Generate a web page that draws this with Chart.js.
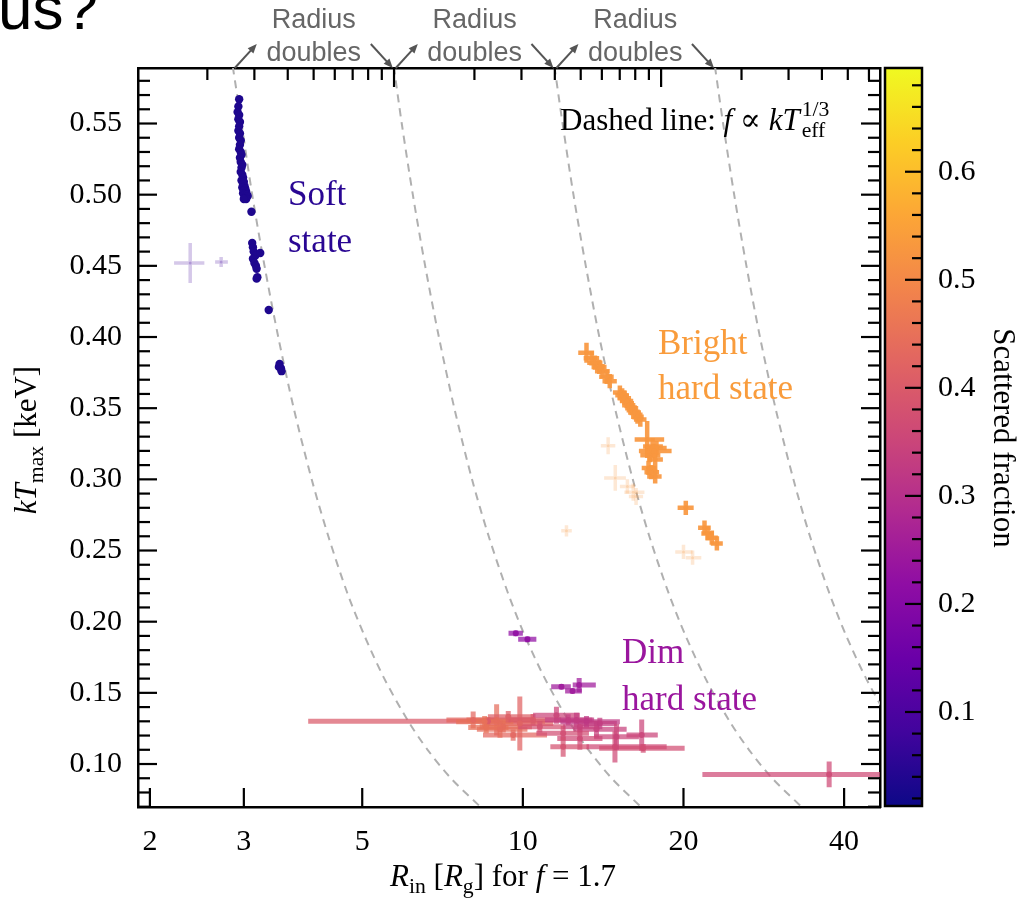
<!DOCTYPE html>
<html>
<head>
<meta charset="utf-8">
<script src="https://cdn.jsdelivr.net/npm/chart.js@4.4.1/dist/chart.umd.min.js"></script>
<style>
  html, body { margin:0; padding:0; background:#fff; }
  #wrap { position:relative; width:1027px; height:899px; overflow:hidden; }
  #main { position:absolute; left:0; top:0; }
  #cbar { position:absolute; left:880px; top:0; }
</style>
</head>
<body>
<div id="wrap">
  <canvas id="main" width="1027" height="899" style="width:1027px;height:899px"></canvas>
  <canvas id="cbar" width="147" height="899" style="width:147px;height:899px"></canvas>
</div>
<script>
// axis ranges and tick labels
const xRange = [1.9, 46.7];
const topRange = [1.1, 660];
const yRange = [0.0698, 0.589];
const cbRange = [0.013, 0.696];
const xTickVals = [2, 3, 5, 10, 20, 40];
const yTickVals = [0.10, 0.15, 0.20, 0.25, 0.30, 0.35, 0.40, 0.45, 0.50, 0.55];
const cbTickVals = [0.1, 0.2, 0.3, 0.4, 0.5, 0.6];

// soft state (dots)
const softR = [2.94,2.93,2.92,2.94,2.93,2.95,2.94,2.93,2.95,2.94,2.96,2.95,2.94,2.96,2.97,2.95,2.96,2.98,2.97,2.96,
  2.98,2.99,2.97,3.00,2.99,3.01,2.98,3.02,3.00,3.03,2.99,3.01,3.04,3.02,3.05,3.03,3.00,3.10,
  3.11,3.12,3.13,3.15,3.12,3.14,3.16,3.17,3.22,3.18,3.17,3.34,3.50,3.52,3.49,3.53];
const softKT = [0.567,0.562,0.558,0.556,0.553,0.551,0.548,0.545,0.543,0.540,0.538,0.535,0.532,0.530,0.528,0.526,0.523,0.521,0.519,0.516,
  0.514,0.512,0.510,0.509,0.507,0.506,0.505,0.504,0.503,0.502,0.501,0.500,0.500,0.498,0.499,0.497,0.497,0.488,
  0.466,0.463,0.460,0.457,0.455,0.452,0.450,0.448,0.459,0.442,0.441,0.419,0.381,0.378,0.379,0.376];
const softFrac = 0.035;

// bright hard state
const brightR = [13.16,13.45,13.65,13.9,14.1,14.36,14.55,15.2,15.35,15.5,15.65,15.8,16.0,16.2,16.4,16.6,17.1,17.5,17.8,17.3,17.7,17.6,17.2,17.4,17.7,20.2,21.9,22.2,22.6,23.1];
const brightKT = [0.389,0.385,0.382,0.379,0.376,0.372,0.369,0.361,0.359,0.357,0.355,0.352,0.350,0.347,0.344,0.342,0.328,0.323,0.322,0.317,0.314,0.320,0.308,0.305,0.302,0.280,0.266,0.262,0.259,0.255];
const brightRLo = [12.7,13.0,13.2,13.45,13.65,13.9,14.1,14.75,14.9,15.05,15.2,15.35,15.55,15.75,15.95,16.15,16.2,16.8,17.0,16.6,17.1,16.5,16.7,16.9,17.1,19.5,21.3,21.6,22.0,22.5];
const brightRHi = [13.6,13.9,14.1,14.35,14.55,14.8,15.0,15.65,15.8,15.95,16.1,16.25,16.45,16.65,16.85,17.05,18.4,18.3,18.6,18.1,18.3,19.0,17.8,18.0,18.2,20.9,22.5,22.8,23.2,23.7];
const brightKTErr = [0.007,0.005,0.005,0.005,0.005,0.005,0.005,0.005,0.005,0.005,0.005,0.005,0.005,0.005,0.005,0.005,0.013,0.006,0.005,0.005,0.008,0.005,0.005,0.005,0.005,0.005,0.005,0.005,0.005,0.005];
const brightFrac = 0.53;

// faint (poorly constrained) points
const fadedR = [2.38,2.72,14.45,14.9,15.7,16.1,16.3,12.07,20.0,20.8];
const fadedKT = [0.452,0.4527,0.3236,0.301,0.295,0.291,0.288,0.2638,0.249,0.245];
const fadedRLo = [2.22,2.65,14.0,14.2,15.2,15.5,15.8,11.8,19.3,20.2];
const fadedRHi = [2.53,2.80,14.9,15.6,16.2,16.9,16.8,12.35,20.8,21.6];
const fadedKTErr = [0.014,0.0035,0.006,0.009,0.005,0.006,0.006,0.004,0.005,0.005];
const fadedFrac = [0.08,0.08,0.53,0.53,0.53,0.53,0.53,0.53,0.53,0.53];

// dim hard state
const dimR = [9.70,10.2,11.81,12.39,12.75,8.6,8.07,8.93,9.87,9.19,8.48,9.39,9.59,9.06,8.54,10.45,10.76,11.56,12.16,12.6,12.79,13.16,13.74,13.94,11.9,12.79,11.9,14.88,16.7,16.81,14.98,37.5];
const dimKT = [0.1918,0.1876,0.1543,0.1513,0.1555,0.130,0.1309,0.131,0.1285,0.1262,0.1297,0.1332,0.1203,0.1245,0.1256,0.1311,0.1262,0.1343,0.131,0.131,0.1262,0.1297,0.1245,0.1285,0.1217,0.118,0.1121,0.1121,0.1203,0.111,0.1191,0.0927];
const dimRLo = [9.40,9.80,11.3,12.0,12.4,3.96,7.19,7.84,8.54,8.3,7.5,8.6,8.42,8.2,7.9,9.4,9.8,10.45,11.0,11.7,11.9,11.76,12.43,12.9,10.6,11.6,11.26,13.16,15.64,13.9,13.6,21.7];
const dimRHi = [10.0,10.6,12.3,12.9,13.7,11.0,8.93,10.45,11.4,10.4,9.6,10.5,11.1,10.2,9.4,11.8,12.0,12.79,13.5,13.6,13.9,15.2,15.65,15.0,13.3,14.1,13.3,18.6,17.9,20.1,16.5,60];
const dimKTErr = [0.002,0.002,0.002,0.002,0.005,0.003,0.006,0.011,0.019,0.004,0.004,0.004,0.004,0.006,0.004,0.004,0.004,0.006,0.004,0.005,0.004,0.004,0.006,0.004,0.005,0.008,0.007,0.011,0.011,0.003,0.009,0.009];
const dimFrac = [0.22,0.22,0.25,0.25,0.25,0.40,0.43,0.44,0.42,0.44,0.45,0.41,0.43,0.44,0.45,0.40,0.38,0.35,0.33,0.33,0.34,0.32,0.34,0.33,0.37,0.36,0.38,0.36,0.35,0.37,0.35,0.36];

// dashed curves (radius doubles from one to the next)
const dashKT = [0.59,0.55,0.50,0.45,0.40,0.35,0.30,0.26,0.22,0.19,0.16,0.13,0.11,0.09,0.07];
const dashR1 = [2.86,2.97,3.11,3.28,3.48,3.72,4.02,4.32,4.69,5.05,5.50,6.10,6.63,7.33,8.32];
const dashR2 = [5.73,5.93,6.22,6.56,6.96,7.44,8.03,8.63,9.38,10.09,11.0,12.2,13.27,14.67,16.63];
const dashR3 = [11.46,11.87,12.44,13.12,13.91,14.88,16.07,17.26,18.76,20.19,22.0,24.4,26.53,29.33,33.26];
const dashR4 = [22.91,23.73,24.89,26.24,27.82,29.75,32.14,34.52,37.53,40.38,44.0,48.8,53.06,58.67,66.52];

const serif = '"Liberation Serif", "DejaVu Serif", serif';
const sans = '"Liberation Sans", Arial, sans-serif';

// plasma colormap
const plasmaStops = ['#0d0887','#41049d','#6a00a8','#8f0da4','#b12a90','#cc4778','#e16462','#f2844b','#fca636','#fcce25','#f0f921'];
function hexRgb(h){ return [1,3,5].map(i => parseInt(h.slice(i,i+2),16)); }
function fracColor(v, alpha){
  let t = (v - cbRange[0]) / (cbRange[1] - cbRange[0]);
  t = Math.max(0, Math.min(1, t));
  const p = t*10, i = Math.min(9, Math.floor(p)), f = p - i;
  const a = hexRgb(plasmaStops[i]), b = hexRgb(plasmaStops[i+1]);
  const c = a.map((av,k) => Math.round(av + (b[k]-av)*f));
  return `rgba(${c[0]},${c[1]},${c[2]},${alpha})`;
}
function pts(R, KT, lo, hi, err){
  return R.map((r,i) => ({x:r, y:KT[i], xMin: lo ? lo[i] : r, xMax: hi ? hi[i] : r,
    yMin: err ? KT[i]-err[i] : KT[i], yMax: err ? KT[i]+err[i] : KT[i]}));
}
function fracs(f, n){ return Array.isArray(f) ? f : new Array(n).fill(f); }

function pointSet(label, data, frac, alpha, ptAlpha, radius, errWidth, order){
  const f = fracs(frac, data.length);
  return {label, data, order, pointRadius: radius, pointBorderWidth: 0,
    pointBackgroundColor: f.map(v => fracColor(v, ptAlpha)),
    errColors: f.map(v => fracColor(v, alpha)), errWidth};
}
function dashSet(R){
  return {type:'line', data: R.map((r,i) => ({x:r, y:dashKT[i]})), showLine:true, borderColor:'#b0b0b0',
    borderWidth:2, borderDash:[8,6], pointRadius:0, fill:false, tension:0.3, order:9};
}

// error bars drawn through the chart scales
const errorBars = {
  id:'errorBars',
  beforeDatasetDraw(chart, args){
    const ds = chart.data.datasets[args.index];
    if (!ds.errWidth) return;
    const {ctx, chartArea:a, scales:{x, y}} = chart;
    ctx.save();
    ctx.beginPath(); ctx.rect(a.left, a.top, a.width, a.height); ctx.clip();
    ctx.lineWidth = ds.errWidth; ctx.lineCap = 'butt';
    ds.data.forEach((d,i) => {
      const px = x.getPixelForValue(d.x), py = y.getPixelForValue(d.y);
      ctx.strokeStyle = ds.errColors[i];
      ctx.beginPath();
      ctx.moveTo(x.getPixelForValue(d.xMin), py); ctx.lineTo(x.getPixelForValue(d.xMax), py);
      ctx.moveTo(px, y.getPixelForValue(d.yMax)); ctx.lineTo(px, y.getPixelForValue(d.yMin));
      ctx.stroke();
    });
    ctx.restore();
  }
};

// mixed-style text helpers
function fontOf(k, size){
  const s = (k === 'sub' || k === 'sup' || k === 'ss') ? size*0.7 : size;
  return (k === 'i' ? 'italic ' : '') + s + 'px ' + serif;
}
function segWidth(ctx, g, size){
  ctx.font = fontOf(g[1], size);
  let w = ctx.measureText(g[0]).width;
  if (g[1] === 'ss') w = Math.max(w, ctx.measureText(g[2]).width);
  return w;
}
function drawRich(ctx, segs, x, y, size, align){
  const total = segs.reduce((s,g) => s + segWidth(ctx, g, size), 0);
  let cx = align === 'center' ? x - total/2 : x;
  ctx.textAlign = 'left'; ctx.textBaseline = 'alphabetic';
  segs.forEach(g => {
    const w = segWidth(ctx, g, size);
    ctx.font = fontOf(g[1], size);
    if (g[1] === 'sub') ctx.fillText(g[0], cx, y + size*0.22);
    else if (g[1] === 'ss') { ctx.fillText(g[0], cx + 2, y + size*0.24); ctx.fillText(g[2], cx + 2, y - size*0.45); }
    else ctx.fillText(g[0], cx, y);
    cx += w;
  });
}
function arrow(ctx, x1, y1, x2, y2){
  const ang = Math.atan2(y2-y1, x2-x1), h = 10;
  ctx.beginPath(); ctx.moveTo(x1,y1); ctx.lineTo(x2 - Math.cos(ang)*6, y2 - Math.sin(ang)*6); ctx.stroke();
  ctx.beginPath(); ctx.moveTo(x2,y2);
  ctx.lineTo(x2 - h*Math.cos(ang-0.4), y2 - h*Math.sin(ang-0.4));
  ctx.lineTo(x2 - h*Math.cos(ang+0.4), y2 - h*Math.sin(ang+0.4));
  ctx.closePath(); ctx.fill();
}

const frame = {
  id:'frame',
  afterDraw(chart){
    const {ctx, chartArea:a, scales:{x, x2, y}} = chart;
    ctx.save();
    ctx.strokeStyle = '#000'; ctx.lineWidth = 2.2;
    const seg = (x1,y1,x2_,y2_) => { ctx.beginPath(); ctx.moveTo(x1,y1); ctx.lineTo(x2_,y2_); ctx.stroke(); };
    for (let k = 7; k <= 58; k++){
      const py = y.getPixelForValue(k/100), len = k % 5 === 0 ? 19 : 12;
      seg(a.left, py, a.left+len, py); seg(a.right, py, a.right-len, py);
    }
    xTickVals.forEach(v => { const px = x.getPixelForValue(v); seg(px, a.bottom, px, a.bottom-19); });
    for (let d = 1; d <= 100; d *= 10) for (let m = 1; m < 10; m++){
      const v = d*m;
      if (v < topRange[0] || v > topRange[1]) continue;
      const px = x2.getPixelForValue(v);
      seg(px, a.top, px, a.top + (m === 1 ? 19 : 12));
    }

    // axis titles
    ctx.fillStyle = '#000';
    drawRich(ctx, [['R','i'],['in','sub'],[' [',''],['R','i'],['g','sub'],['] for ',''],['f','i'],[' = 1.7','']], 503, 886, 31, 'center');
    ctx.save(); ctx.translate(36, 440); ctx.rotate(-Math.PI/2);
    drawRich(ctx, [['k','i'],['T','i'],['max','sub'],[' [keV]','']], 0, 0, 31, 'center');
    ctx.restore();

    drawRich(ctx, [['Dashed line: ',''],['f','i'],[' \u221d ',''],['kT','i'],['eff','ss','1/3']], 560, 130, 31, 'left');

    // state labels
    ctx.font = '35px ' + serif; ctx.textAlign = 'left';
    ctx.fillStyle = fracColor(0.05, 1);
    ctx.fillText('Soft', 288, 205); ctx.fillText('state', 288, 252);
    ctx.fillStyle = fracColor(0.54, 1);
    ctx.fillText('Bright', 658, 354); ctx.fillText('hard state', 658, 399);
    ctx.fillStyle = fracColor(0.24, 1);
    ctx.fillText('Dim', 622, 663); ctx.fillText('hard state', 622, 710);

    // radius doubling notes above the frame
    const tops = [dashR1[0], dashR2[0], dashR3[0], dashR4[0]].map(r => x.getPixelForValue(r));
    ctx.strokeStyle = '#555'; ctx.lineWidth = 2;
    ctx.font = '27px ' + sans; ctx.textAlign = 'center';
    for (let i = 0; i < 3; i++){
      const L = tops[i] + 2, R = tops[i+1] - 1, mid = (L + R)/2;
      ctx.fillStyle = '#666';
      ctx.fillText('Radius', mid, 28); ctx.fillText('doubles', mid, 61);
      ctx.fillStyle = '#555';
      arrow(ctx, L, a.top, L + 22, a.top - 24);
      arrow(ctx, R - 22, a.top - 24, R, a.top);
    }

    // cut-off slide title
    ctx.fillStyle = '#000'; ctx.textAlign = 'left';
    ctx.font = '62px ' + sans; ctx.fillText('us?', -2, 29);
    ctx.restore();
  }
};

const softData = pts(softR, softKT);
const brightData = pts(brightR, brightKT, brightRLo, brightRHi, brightKTErr);
const fadedData = pts(fadedR, fadedKT, fadedRLo, fadedRHi, fadedKTErr);
const dimData = pts(dimR, dimKT, dimRLo, dimRHi, dimKTErr);

const border = {color:'#000', width:2.5};
const tickFont = {family: serif, size: 30};

new Chart(document.getElementById('main'), {
  type:'scatter',
  data:{ datasets:[
    pointSet('Soft state', softData, softFrac, 1, 1, 4.2, 0, 1),
    pointSet('Bright hard state', brightData, brightFrac, 0.92, 0.95, 2.5, 4.5, 2),
    pointSet('Dim hard state', dimData, dimFrac, 0.72, 0.9, 3, 5, 3),
    pointSet('Faint', fadedData, fadedFrac, 0.22, 0.25, 1.5, 3.5, 4),
    dashSet(dashR1), dashSet(dashR2), dashSet(dashR3), dashSet(dashR4)
  ]},
  options:{
    responsive:false, animation:false,
    layout:{padding:0},
    plugins:{legend:{display:false}, tooltip:{enabled:false}},
    scales:{
      x:{type:'logarithmic', position:'bottom', min:xRange[0], max:xRange[1],
        afterFit(s){ s.height = 92; },
        afterBuildTicks(s){ s.ticks = xTickVals.map(v => ({value:v})); },
        ticks:{font:tickFont, color:'#000', padding:17, maxRotation:0, autoSkip:false, callback: v => String(v)},
        grid:{display:false, drawTicks:false}, border},
      x2:{type:'logarithmic', position:'top', min:topRange[0], max:topRange[1],
        afterFit(s){ s.height = 68; },
        ticks:{display:false}, grid:{display:false, drawTicks:false}, border},
      y:{type:'linear', position:'left', min:yRange[0], max:yRange[1],
        afterFit(s){ s.width = 138; },
        afterBuildTicks(s){ s.ticks = yTickVals.map(v => ({value:v})); },
        ticks:{font:tickFont, color:'#000', padding:16, callback: v => Number(v).toFixed(2)},
        grid:{display:false, drawTicks:false}, border},
      y2:{type:'linear', position:'right', min:yRange[0], max:yRange[1],
        afterFit(s){ s.width = 147; },
        ticks:{display:false}, grid:{display:false, drawTicks:false}, border}
    }
  },
  plugins:[errorBars, frame]
});

// colour bar
const cbFrame = {
  id:'cbFrame',
  afterDraw(chart){
    const {ctx, chartArea:a, scales:{y}} = chart;
    ctx.save();
    ctx.strokeStyle = '#000'; ctx.lineWidth = 2.2;
    for (let k = 1; k <= 34; k++){
      const py = y.getPixelForValue(k/50), len = k % 5 === 0 ? 17 : 10;
      ctx.beginPath(); ctx.moveTo(a.right, py); ctx.lineTo(a.right - len, py); ctx.stroke();
    }
    ctx.lineWidth = 2.5;
    ctx.strokeRect(a.left, a.top, a.width, a.height);
    ctx.translate(122, 438); ctx.rotate(Math.PI/2);
    ctx.fillStyle = '#000'; ctx.font = '31px ' + serif; ctx.textAlign = 'center'; ctx.textBaseline = 'middle';
    ctx.fillText('Scattered fraction', 0, 0);
    ctx.restore();
  }
};

new Chart(document.getElementById('cbar'), {
  type:'bar',
  data:{ labels:['f'], datasets:[{
    data:[[cbRange[0], cbRange[1]]],
    backgroundColor(c){
      const a = c.chart.chartArea;
      if (!a) return '#888';
      const g = c.chart.ctx.createLinearGradient(0, a.bottom, 0, a.top);
      plasmaStops.forEach((s,i) => g.addColorStop(i/10, s));
      return g;
    },
    borderWidth:0, barPercentage:1, categoryPercentage:1
  }]},
  options:{
    responsive:false, animation:false,
    layout:{padding:{left:5, top:68, bottom:93, right:0}},
    plugins:{legend:{display:false}, tooltip:{enabled:false}},
    scales:{
      x:{display:false},
      y:{position:'right', min:cbRange[0], max:cbRange[1],
        afterFit(s){ s.width = 105; },
        afterBuildTicks(s){ s.ticks = cbTickVals.map(v => ({value:v})); },
        ticks:{font:tickFont, color:'#000', padding:16, callback: v => Number(v).toFixed(1)},
        grid:{display:false, drawTicks:false}, border:{display:false}}
    }
  },
  plugins:[cbFrame]
});
</script>
</body>
</html>
